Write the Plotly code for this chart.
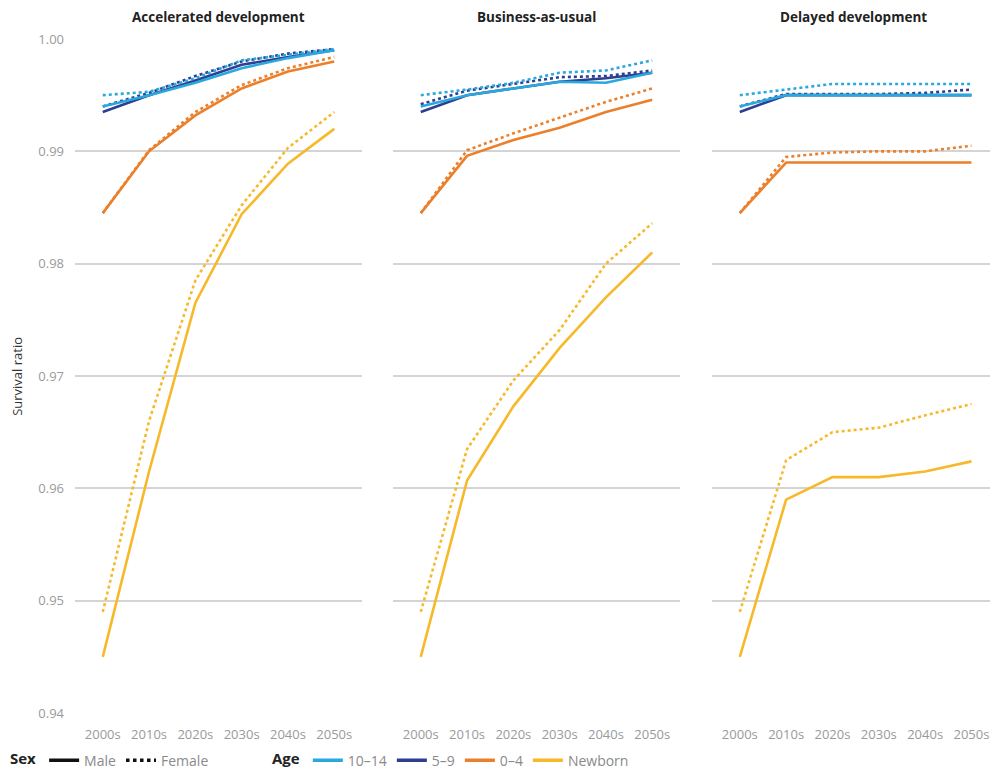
import plotly.graph_objects as go

decades = ["2000s", "2010s", "2020s", "2030s", "2040s", "2050s"]
scenarios = ["Accelerated development", "Business-as-usual", "Delayed development"]
ages = ["10–14", "5–9", "0–4", "Newborn"]
sexes = ["Male", "Female"]

# Accelerated development
acc_1014_m = [0.9940, 0.9950, 0.9961, 0.9974, 0.9983, 0.9990]
acc_1014_f = [0.9950, 0.9953, 0.9965, 0.9981, 0.9986, 0.9991]
acc_59_m = [0.9935, 0.9950, 0.9963, 0.9977, 0.9984, 0.9990]
acc_59_f = [0.9940, 0.9952, 0.9967, 0.9980, 0.9987, 0.9991]
acc_04_m = [0.9845, 0.9900, 0.9932, 0.9956, 0.9971, 0.9980]
acc_04_f = [0.9845, 0.9901, 0.9935, 0.9959, 0.9974, 0.9984]
acc_nb_m = [0.9450, 0.9615, 0.9765, 0.9844, 0.9889, 0.9920]
acc_nb_f = [0.9490, 0.9660, 0.9785, 0.9852, 0.9903, 0.9935]

# Business-as-usual
bau_1014_m = [0.9940, 0.9950, 0.9956, 0.9962, 0.9961, 0.9970]
bau_1014_f = [0.9950, 0.9955, 0.9961, 0.9970, 0.9972, 0.9981]
bau_59_m = [0.9935, 0.9950, 0.9956, 0.9962, 0.9965, 0.9970]
bau_59_f = [0.9942, 0.9954, 0.9960, 0.9966, 0.9967, 0.9972]
bau_04_m = [0.9845, 0.9896, 0.9910, 0.9921, 0.9935, 0.9946]
bau_04_f = [0.9845, 0.9901, 0.9916, 0.9930, 0.9944, 0.9956]
bau_nb_m = [0.9450, 0.9607, 0.9673, 0.9725, 0.9770, 0.9810]
bau_nb_f = [0.9490, 0.9635, 0.9696, 0.9741, 0.9800, 0.9836]

# Delayed development
del_1014_m = [0.9940, 0.9950, 0.9950, 0.9950, 0.9950, 0.9950]
del_1014_f = [0.9950, 0.9955, 0.9960, 0.9960, 0.9960, 0.9960]
del_59_m = [0.9935, 0.9950, 0.9950, 0.9950, 0.9950, 0.9950]
del_59_f = [0.9940, 0.9951, 0.9951, 0.9951, 0.9952, 0.9955]
del_04_m = [0.9845, 0.9890, 0.9890, 0.9890, 0.9890, 0.9890]
del_04_f = [0.9845, 0.9895, 0.9899, 0.9900, 0.9900, 0.9905]
del_nb_m = [0.9450, 0.9590, 0.9610, 0.9610, 0.9615, 0.9624]
del_nb_f = [0.9490, 0.9625, 0.9650, 0.9654, 0.9665, 0.9675]

y_ticks = [0.94, 0.95, 0.96, 0.97, 0.98, 0.99, 1.00]
y_tick_text = ["0.94", "0.95", "0.96", "0.97", "0.98", "0.99", "1.00"]

age_colors = {"10–14": "#29a8e0", "5–9": "#2d3f8e", "0–4": "#ec7f2a", "Newborn": "#f7b82a"}
sex_dash = {"Male": "solid", "Female": "dot"}

data = {
    scenarios[0]: {"10–14": (acc_1014_m, acc_1014_f), "5–9": (acc_59_m, acc_59_f),
                   "0–4": (acc_04_m, acc_04_f), "Newborn": (acc_nb_m, acc_nb_f)},
    scenarios[1]: {"10–14": (bau_1014_m, bau_1014_f), "5–9": (bau_59_m, bau_59_f),
                   "0–4": (bau_04_m, bau_04_f), "Newborn": (bau_nb_m, bau_nb_f)},
    scenarios[2]: {"10–14": (del_1014_m, del_1014_f), "5–9": (del_59_m, del_59_f),
                   "0–4": (del_04_m, del_04_f), "Newborn": (del_nb_m, del_nb_f)},
}

W, H = 990, 778
top_px, bot_px = 39, 713.3
fig = go.Figure()

def px(x):
    return x / W

domains = [[px(75), px(362)], [px(393), px(680)], [px(712), 1.0]]
xranges = [[-0.6, 5.6], [-0.6, 5.6], [-0.6, 5.4]]
draw_order = ["Newborn", "0–4", "5–9", "10–14"]

for i, sc in enumerate(scenarios):
    xa = "x" if i == 0 else f"x{i+1}"
    ya = "y" if i == 0 else f"y{i+1}"
    for age in draw_order:
        for j, sex in enumerate(sexes):
            fig.add_trace(go.Scatter(
                x=decades, y=data[sc][age][j], mode="lines",
                line=dict(color=age_colors[age], width=2.6, dash=sex_dash[sex]),
                xaxis=xa, yaxis=ya, showlegend=False, hoverinfo="skip"))

# legend entries
for sex in sexes:
    fig.add_trace(go.Scatter(x=[None], y=[None], mode="lines", name=sex,
                             line=dict(color="#111111", width=3.5, dash=sex_dash[sex]),
                             legend="legend"))
for age in ages:
    fig.add_trace(go.Scatter(x=[None], y=[None], mode="lines", name=age,
                             line=dict(color=age_colors[age], width=3.5),
                             legend="legend2"))

tick_font = dict(family="Open Sans", size=13, color="#9a9a9a")
for i in range(3):
    sfx = "" if i == 0 else str(i + 1)
    fig.layout["xaxis" + sfx] = dict(
        domain=domains[i], type="category", range=xranges[i],
        showgrid=False, zeroline=False, showline=False, ticks="",
        tickfont=tick_font, ticklabelstandoff=12, fixedrange=True,
        anchor="y" + sfx)
    fig.layout["yaxis" + sfx] = dict(
        domain=[0, 1], range=[0.94, 1.0], tickvals=y_ticks, ticktext=y_tick_text,
        showticklabels=(i == 0), showgrid=True, gridcolor="#d4d4d4", gridwidth=1.5,
        zeroline=False, showline=False, ticks="", tickfont=tick_font,
        ticklabelstandoff=10, anchor="x" + sfx, fixedrange=True)

ph = bot_px - top_px

def py(y):
    return (bot_px - y) / ph

annotations = []
centers = [218.5, 536.5, 853]
for i, sc in enumerate(scenarios):
    annotations.append(dict(text="<b>" + sc + "</b>", x=px(centers[i]), xref="paper",
                            y=py(17), yref="paper", showarrow=False,
                            xanchor="center", yanchor="middle",
                            font=dict(family="Open Sans", size=13.5, color="#222222")))
annotations.append(dict(text="Survival ratio", x=px(17), xref="paper",
                        y=py(377), yref="paper", textangle=-90,
                        showarrow=False, xanchor="center", yanchor="middle",
                        font=dict(family="Open Sans", size=13, color="#333333")))

# bottom-anchored inside the figure so the legends never push the margins
legend_common = dict(orientation="h", yanchor="bottom", y=py(777), xanchor="left",
                     font=dict(family="Open Sans", size=14, color="#8a8a8a"),
                     bgcolor="rgba(0,0,0,0)", itemwidth=30, tracegroupgap=0)
title_font = dict(family="Open Sans", size=15, color="#222222")

fig.update_layout(
    width=W, height=H,
    margin=dict(l=0, r=0, t=top_px, b=H - bot_px),
    plot_bgcolor="white", paper_bgcolor="white",
    font=dict(family="Open Sans"),
    annotations=annotations,
    legend=dict(x=px(8), title=dict(text="<b>Sex</b>", side="left", font=title_font),
                **legend_common),
    legend2=dict(x=px(270), title=dict(text="<b>Age</b>", side="left", font=title_font),
                 **legend_common),
)

fig.write_html("out.html", config={"displayModeBar": False},
               post_script="document.body.style.margin='0';document.body.style.overflow='hidden';")
